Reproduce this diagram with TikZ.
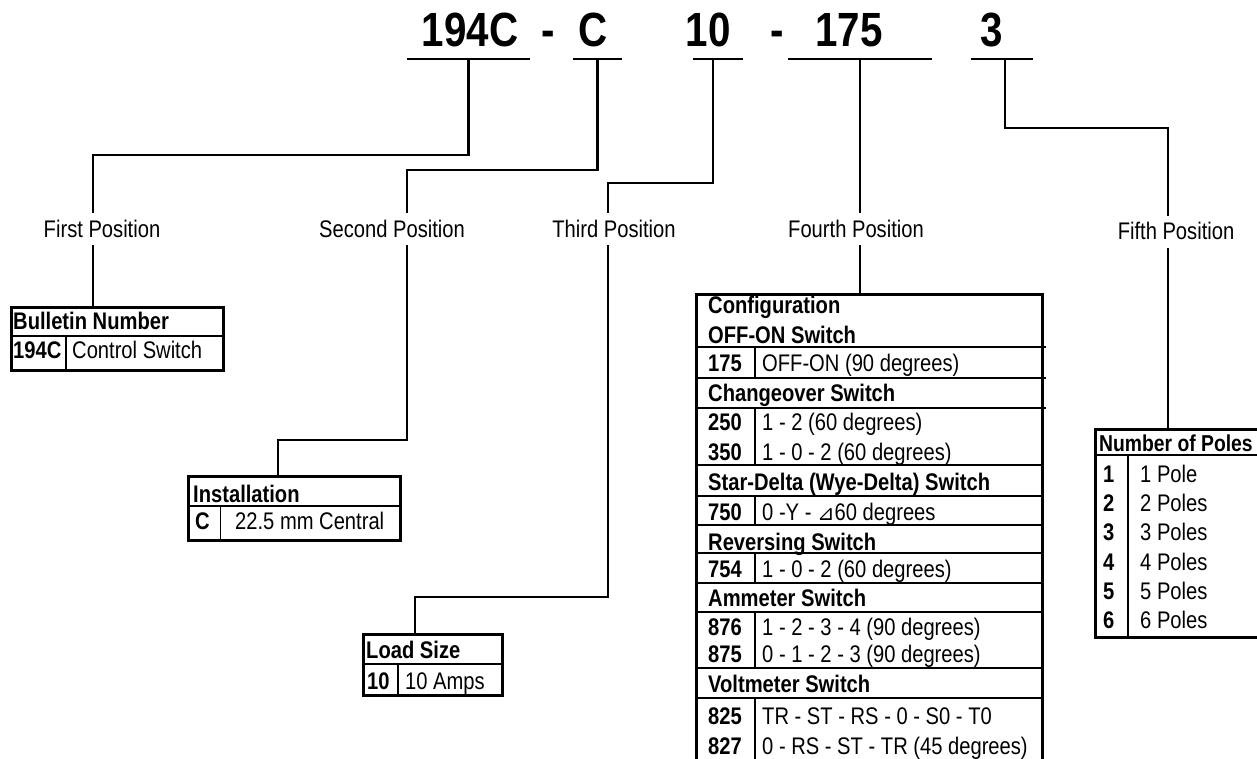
\documentclass[tikz,border=0pt]{standalone}
\usepackage{fontspec}
\setmainfont{Liberation Sans}[FakeStretch=0.84]
\newfontfamily\trifont{DejaVu Sans}
\begin{document}
\begin{tikzpicture}[x=1pt,y=-1pt,
    link/.style={line width=2.5pt},
    tblframe/.style={draw, line width=3pt, minimum width=#1, anchor=north west, inner sep=0, outer sep=0},
    tblrule/.style={line width=2pt},
    codetxt/.style={font=\fontsize{48}{52}\selectfont\bfseries, anchor=base, inner sep=0},
    poslabel/.style={font=\fontsize{24}{28}\selectfont, anchor=base, inner xsep=0, inner ysep=8pt, text height=16pt, text depth=0pt},
    txt/.style={font=\fontsize{24}{28}\selectfont, anchor=base west, inner sep=0},
    keytxt/.style={font=\fontsize{24}{28}\selectfont\bfseries, anchor=base west, inner sep=0}]
  \useasboundingbox (0,0) rectangle (1257,759);
  \clip (0,0) rectangle (1257,759);
  % catalogue number
  \node[codetxt] (c1) at (470,47) {194C};
  \node[codetxt] (d1) at (548,47) {-};
  \node[codetxt] (c2) at (593,47) {C};
  \node[codetxt] (c3) at (708,47) {10};
  \node[codetxt] (d2) at (777,47) {-};
  \node[codetxt] (c4) at (849,47) {175};
  \node[codetxt] (c5) at (992,47) {3};
  \draw[link] (407,59) -- coordinate[pos=0.5] (u1) (530,59);
  \draw[link] (573,59) -- coordinate[pos=0.5] (u2) (622,59);
  \draw[link] (693,59) -- coordinate[pos=0.4] (u3) (743,59);
  \draw[link] (788,59) -- coordinate[pos=0.5] (u4) (932,59);
  \draw[link] (971,59) -- coordinate[pos=0.55] (u5) (1033,59);
  % positions
  \node[poslabel] (p1) at (102,237) {First Position};
  \node[poslabel] (p2) at (392,237) {Second Position};
  \node[poslabel] (p3) at (614,237) {Third Position};
  \node[poslabel] (p4) at (856,237) {Fourth Position};
  \node[poslabel] (p5) at (1176,240) {Fifth Position};
  % tables
  \node[tblframe=212pt, minimum height=63pt] (t1) at (11,307) {};
  \node[tblframe=212pt, minimum height=64pt] (t2) at (188,476) {};
  \node[tblframe=139pt, minimum height=61pt] (t3) at (363,634) {};
  \node[tblframe=346pt, minimum height=480pt] (t4) at (696,294) {};
  \node[tblframe=175pt, minimum height=208pt] (t5) at (1095,429) {};
  % connectors
  \draw[link] (u1) -- ++(0,96) -| ([xshift=-9]p1.north);
  \draw[link] ([xshift=-9]p1.south) -- ([xshift=-9]p1.south |- t1.north);
  \draw[link] (u2) -- ++(0,111) -| ([xshift=15]p2.north);
  \draw[link] ([xshift=15]p2.south) -- ++(0,195) -| ([xshift=-16]t2.north);
  \draw[link] (u3) -- ++(0,124) -| ([xshift=-6]p3.north);
  \draw[link] ([xshift=-6]p3.south) -- ++(0,352) -| ([xshift=-17.5]t3.north);
  \draw[link] (u4) -- ([xshift=4]p4.north);
  \draw[link] ([xshift=4]p4.south) -- ([xshift=4]p4.south |- t4.north);
  \draw[link] (u5) -- ++(0,69) -| ([xshift=-8]p5.north);
  \draw[link] ([xshift=-8]p5.south) -- ([xshift=-8]p5.south |- t5.north);
  % bulletin number
  \draw[tblrule] (11,336) -- (223,336); \draw[tblrule] (66,336) -- (66,370);
  \node[keytxt] (h1) at (13,329) {Bulletin Number};
  \node[keytxt] (k1) at (13,358) {194C};
  \node[txt] (v1) at (72,358) {Control Switch};
  % installation
  \draw[tblrule] (188,506) -- (400,506); \draw[line width=1pt] (220,506) -- (220,540);
  \node[keytxt] (h2) at (193,502) {Installation};
  \node[keytxt] (k2) at (195,529) {C};
  \node[txt] (v2) at (235,529) {22.5 mm Central};
  % load size
  \draw[tblrule] (363,664) -- (502,664); \draw[tblrule] (398,664) -- (398,695);
  \node[keytxt] (h3) at (366,658) {Load Size};
  \node[keytxt] (k3) at (367,689) {10};
  \node[txt] (v3) at (405,689) {10 Amps};
  % configuration
  \draw[tblrule] (696,347) -- (1046,347); \draw[tblrule] (696,378) -- (1046,378);
  \draw[tblrule] (696,408) -- (1046,408); \draw[tblrule] (696,465) -- (1042,465);
  \draw[tblrule] (696,496) -- (1044,496); \draw[tblrule] (696,525) -- (1044,525);
  \draw[tblrule] (696,553) -- (1044,553); \draw[tblrule] (696,583) -- (1044,583);
  \draw[tblrule] (696,612) -- (1044,612); \draw[tblrule] (696,668) -- (1042,668);
  \draw[tblrule] (696,698) -- (1044,698);
  \draw[tblrule] (755,347) -- (755,378); \draw[tblrule] (755,408) -- (755,465);
  \draw[tblrule] (755,496) -- (755,525); \draw[tblrule] (755,553) -- (755,583);
  \draw[tblrule] (755,612) -- (755,668); \draw[tblrule] (755,698) -- (755,774);
  \node[keytxt] (h41) at (708,313) {Configuration};
  \node[keytxt] (h42) at (708,343) {OFF-ON Switch};
  \node[keytxt] (k175) at (708,371) {175}; \node[txt] (v175) at (762,371) {OFF-ON (90 degrees)};
  \node[keytxt] (h43) at (708,401) {Changeover Switch};
  \node[keytxt] (k250) at (708,430) {250}; \node[txt] (v250) at (762,430) {1 - 2 (60 degrees)};
  \node[keytxt] (k350) at (708,460) {350}; \node[txt] (v350) at (762,460) {1 - 0 - 2 (60 degrees)};
  \node[keytxt] (h44) at (708,490) {Star-Delta (Wye-Delta) Switch};
  \node[keytxt] (k750) at (708,520) {750}; \node[txt] (v750) at (762,520) {0 -Y - {\trifont\fontsize{21}{24}\selectfont ⊿}60 degrees};
  \node[keytxt] (h45) at (708,550) {Reversing Switch};
  \node[keytxt] (k754) at (708,577) {754}; \node[txt] (v754) at (762,577) {1 - 0 - 2 (60 degrees)};
  \node[keytxt] (h46) at (708,606) {Ammeter Switch};
  \node[keytxt] (k876) at (708,635) {876}; \node[txt] (v876) at (762,635) {1 - 2 - 3 - 4 (90 degrees)};
  \node[keytxt] (k875) at (708,662) {875}; \node[txt] (v875) at (762,662) {0 - 1 - 2 - 3 (90 degrees)};
  \node[keytxt] (h47) at (708,692) {Voltmeter Switch};
  \node[keytxt] (k825) at (708,724) {825}; \node[txt] (v825) at (762,724) {TR - ST - RS - 0 - S0 - T0};
  \node[keytxt] (k827) at (708,754) {827}; \node[txt] (v827) at (762,754) {0 - RS - ST - TR (45 degrees)};
  % number of poles
  \draw[tblrule] (1095,455) -- (1270,455); \draw[tblrule] (1128,455) -- (1128,637);
  \node[keytxt, font=\fontsize{23}{28}\selectfont\bfseries] (h5) at (1099,451) {Number of Poles};
  \node[keytxt] (n1) at (1103,482) {1}; \node[txt] (w1) at (1140,482) {1 Pole};
  \node[keytxt] (n2) at (1103,511) {2}; \node[txt] (w2) at (1140,511) {2 Poles};
  \node[keytxt] (n3) at (1103,540) {3}; \node[txt] (w3) at (1140,540) {3 Poles};
  \node[keytxt] (n4) at (1103,570) {4}; \node[txt] (w4) at (1140,570) {4 Poles};
  \node[keytxt] (n5) at (1103,599) {5}; \node[txt] (w5) at (1140,599) {5 Poles};
  \node[keytxt] (n6) at (1103,628) {6}; \node[txt] (w6) at (1140,628) {6 Poles};
\end{tikzpicture}
\end{document}
